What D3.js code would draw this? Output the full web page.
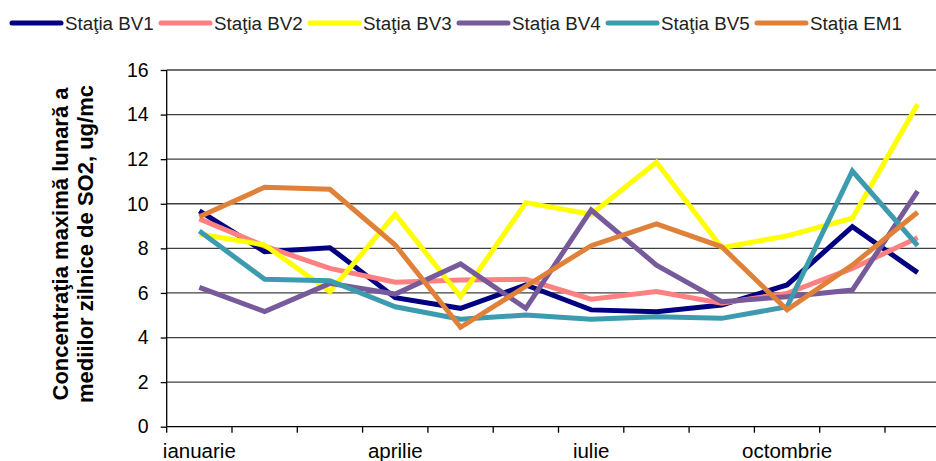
<!DOCTYPE html>
<html lang="ro">
<head>
    <meta charset="UTF-8">
    <title>Concentratia maxima lunara SO2</title>
    <style>
        body { margin: 0; padding: 0; background-color: #fff; }
        svg { display: block; font-family: "Liberation Sans", Arial, sans-serif; }
        .grid line { stroke: #404040; stroke-width: 1.3; }
        .axis-line { stroke: #000; stroke-width: 1.3; }
        .tick-label { font-size: 19.5px; fill: #000; }
        .month-label { font-size: 20.5px; fill: #000; }
        .legend-text { font-size: 18.8px; fill: #222; }
        .y-title { font-size: 22px; font-weight: bold; fill: #000; }
    </style>
</head>
<body>
    <svg width="936" height="461"></svg>

    <script src="https://d3js.org/d3.v7.min.js"></script>
    <script>
        // months (only every third is labelled on the axis)
        const months = ["ianuarie", "februarie", "martie", "aprilie", "mai", "iunie",
                        "iulie", "august", "septembrie", "octombrie", "noiembrie", "decembrie"];
        const shownMonths = ["ianuarie", "aprilie", "iulie", "octombrie"];
        const yTicks = [0, 2, 4, 6, 8, 10, 12, 14, 16];

        const stations = ["Staţia BV1", "Staţia BV2", "Staţia BV3", "Staţia BV4", "Staţia BV5", "Staţia EM1"];
        const colors = ["#000080", "#ff8080", "#ffff00", "#775a9a", "#3d9bb0", "#df8139"];

        const bv1 = [9.68, 7.85, 8.03, 5.79, 5.31, 6.36, 5.24, 5.16, 5.46, 6.36, 8.97, 6.91];
        const bv2 = [9.32, 8.1, 7.1, 6.48, 6.58, 6.61, 5.72, 6.06, 5.54, 5.98, 7.1, 8.48];
        const bv3 = [8.64, 8.15, 6.06, 9.53, 5.83, 10.05, 9.53, 11.86, 8.03, 8.56, 9.35, 14.46];
        const bv4 = [6.25, 5.16, 6.43, 5.95, 7.3, 5.31, 9.72, 7.25, 5.61, 5.83, 6.13, 10.57];
        const bv5 = [8.78, 6.61, 6.55, 5.38, 4.82, 5.01, 4.82, 4.93, 4.86, 5.38, 11.47, 8.12];
        const em1 = [9.42, 10.74, 10.65, 8.15, 4.46, 6.3, 8.12, 9.1, 8.07, 5.24, 7.25, 9.62];

        const series = [bv1, bv2, bv3, bv4, bv5, em1].map((values, i) => ({
            name: stations[i], color: colors[i], values: values
        }));

        const svg = d3.select("svg");
        const margin = {top: 70, left: 166.7, bottom: 34.3};
        const height = +svg.attr("height");

        // plot runs a little past the right edge of the picture, like the original
        const x = d3.scaleBand()
            .domain(months)
            .range([margin.left, margin.left + 12 * 65.3]);

        const y = d3.scaleLinear()
            .domain([0, 16])
            .range([height - margin.bottom, margin.top]);

        // horizontal gridlines
        svg.append("g")
            .attr("class", "grid")
            .selectAll("line")
            .data(yTicks.filter(d => d > 0))
            .join("line")
            .attr("x1", margin.left)
            .attr("x2", 1000)
            .attr("y1", d => y(d))
            .attr("y2", d => y(d));

        // y axis
        const yAxis = svg.append("g")
            .attr("transform", `translate(${margin.left},0)`)
            .call(d3.axisLeft(y).tickValues(yTicks).tickSize(6).tickPadding(12));
        yAxis.select(".domain").attr("class", "axis-line").attr("d", `M0,${y(0)}V${y(16)}`);
        yAxis.selectAll(".tick line").attr("stroke", "#000").attr("stroke-width", 1.3);
        yAxis.selectAll(".tick text").attr("class", "tick-label").attr("font-size", null).attr("font-family", null);

        // x axis: tick marks between categories
        const xAxis = svg.append("g")
            .attr("transform", `translate(0,${y(0)})`);
        xAxis.append("line")
            .attr("class", "axis-line")
            .attr("x1", margin.left).attr("x2", 1000);
        xAxis.selectAll(".xtick")
            .data(months)
            .join("line")
            .attr("class", "xtick")
            .attr("x1", d => x(d)).attr("x2", d => x(d))
            .attr("y1", 0).attr("y2", 6)
            .attr("stroke", "#000").attr("stroke-width", 1.3);
        xAxis.selectAll(".month-label")
            .data(shownMonths)
            .join("text")
            .attr("class", "month-label")
            .attr("x", d => x(d) + x.bandwidth() / 2)
            .attr("y", 31.5)
            .attr("text-anchor", "middle")
            .text(d => d);

        // series lines
        const line = d3.line()
            .x((d, i) => x(months[i]) + x.bandwidth() / 2)
            .y(d => y(d));

        svg.append("g")
            .selectAll("path")
            .data(series)
            .join("path")
            .attr("fill", "none")
            .attr("stroke", d => d.color)
            .attr("stroke-width", 5)
            .attr("stroke-linejoin", "miter")
            .attr("d", d => line(d.values));

        // y title
        const title = svg.append("text")
            .attr("class", "y-title")
            .attr("transform", "translate(0,244) rotate(-90)")
            .attr("text-anchor", "middle");
        title.append("tspan").attr("x", 0).attr("y", 68).text("Concentraţia maximă  lunară a");
        title.append("tspan").attr("x", 0).attr("y", 93).text("mediilor zilnice de SO2, ug/mc");

        // legend
        const legend = svg.append("g")
            .selectAll("g")
            .data(series)
            .join("g")
            .attr("transform", (d, i) => `translate(${10 + i * 149},23)`);
        legend.append("line")
            .attr("x1", 2).attr("x2", 51)
            .attr("stroke", d => d.color)
            .attr("stroke-width", 5)
            .attr("stroke-linecap", "round");
        legend.append("text")
            .attr("class", "legend-text")
            .attr("x", 55)
            .attr("y", 6.5)
            .text(d => d.name);
    </script>
</body>
</html>
